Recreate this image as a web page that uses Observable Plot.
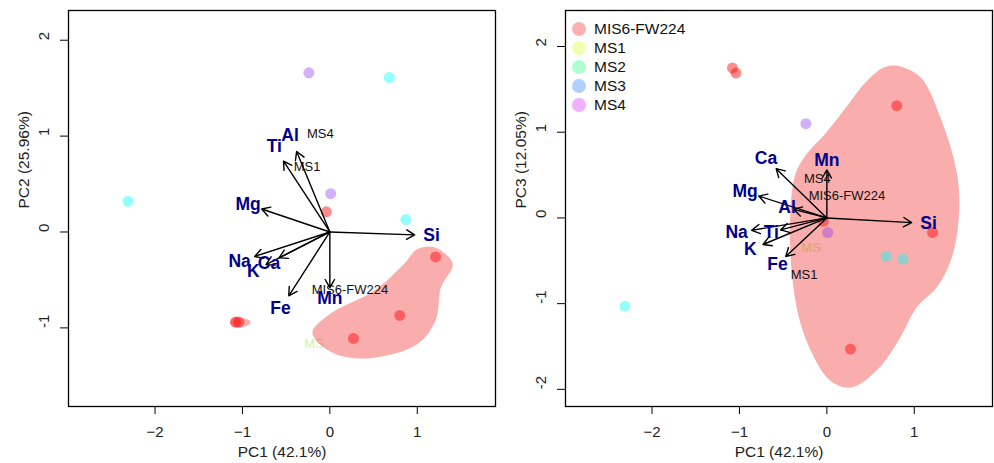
<!DOCTYPE html>
<html>
<head>
<meta charset="utf-8">
<script src="https://cdn.jsdelivr.net/npm/d3@7"></script>
<script src="https://cdn.jsdelivr.net/npm/@observablehq/plot@0.6"></script>
<style>
  body { margin: 0; background: #fff; font-family: "Liberation Sans", Arial, sans-serif; }
  #wrap { display: flex; width: 994px; height: 463px; }
  .panel { position: relative; width: 497px; height: 463px; }
  .legend { position: absolute; left: 75px; top: 19px; font-size: 15.5px; color: #111; }
  .legend .row { display: flex; align-items: center; height: 19px; }
  .legend .sw { width: 14px; height: 14px; border-radius: 50%; margin-right: 8px; }
</style>
</head>
<body>
<div id="wrap">
  <div class="panel" id="pc12"></div>
  <div class="panel" id="pc13"></div>
</div>
<script>
// Sample scores on the first three principal components
const sampleGroup = ["MIS6-FW224", "MIS6-FW224", "MIS6-FW224", "MIS6-FW224", "MIS6-FW224", "MIS6-FW224",
                     "MS4", "MS4", "MS1", "MS1", "MS1"];
const samplePC1 = [-1.08, -1.04, 0.80, 1.21, 0.27, -0.04, -0.24, 0.01, 0.68, 0.87, -2.31];
const samplePC2 = [-0.94, -0.94, -0.87, -0.26, -1.11, 0.21, 1.66, 0.40, 1.61, 0.13, 0.32];
const samplePC3 = [1.75, 1.69, 1.31, -0.17, -1.53, -0.04, 1.10, -0.17, -0.45, -0.48, -1.03];

// Colours used for the sample points
const pointGroups = ["MIS6-FW224", "MS4", "MS1"];
const pointColors = ["rgba(255,0,0,0.45)", "rgba(140,50,240,0.38)", "rgba(0,255,255,0.42)"];

// Legend entries
const legendGroups = ["MIS6-FW224", "MS1", "MS2", "MS3", "MS4"];
const legendColors = ["#FFB0B0", "#F0FFB0", "#B0FFD0", "#B0D0FF", "#EEB0FF"];

// Element loadings (arrows)
const elements = ["Si", "Al", "Ti", "Mg", "Na", "K", "Ca", "Fe", "Mn"];
const loadPC1 = [0.97, -0.38, -0.53, -0.78, -0.86, -0.73, -0.58, -0.47, 0.00];
const loadPC2 = [-0.03, 0.84, 0.74, 0.24, -0.255, -0.34, -0.27, -0.665, -0.58];
const loadPC3 = [-0.055, 0.10, -0.14, 0.255, -0.145, -0.31, 0.575, -0.45, 0.56];
const labelScale = 1.2;

// Group labels
const groupLabels = ["MS4", "MS1", "MIS6-FW224"];
const groupLabelPC1 = [-0.11, -0.26, 0.23];
const groupLabelPC2 = [1.02, 0.68, -0.60];
const groupLabelPC3 = [0.46, -0.66, 0.26];
const faintLabel = "MS";
const faintLabelPC1 = -0.18;
const faintLabelPC2 = -1.17;
const faintLabelPC3 = -0.35;

// Outlines of the MIS6-FW224 envelope
const hull12Main = {
  pc1: [1.195, 1.405, 1.27, 1.21, 1.00, 0.39, 0.01, -0.20, 0.01, 0.51, 0.85, 1.00],
  pc2: [-0.16, -0.33, -0.58, -0.92, -1.17, -1.32, -1.25, -1.05, -0.85, -0.61, -0.33, -0.18]
};
const hull12Small = {
  pc1: [-1.14, -1.10, -1.00, -0.91, -0.92, -1.00, -1.10],
  pc2: [-0.945, -0.895, -0.90, -0.93, -0.965, -0.99, -0.99]
};
const hull13Main = {
  pc1: [0.80, 1.07, 1.30, 1.49, 1.51, 1.43, 1.26, 1.03, 0.82, 0.57, 0.27, 0.04, -0.15, -0.31, -0.40, -0.42, -0.36, -0.23, -0.02, 0.19, 0.46, 0.65],
  pc3: [1.775, 1.64, 1.17, 0.51, 0.01, -0.46, -0.81, -1.04, -1.43, -1.78, -1.98, -1.90, -1.62, -1.20, -0.65, 0.01, 0.51, 0.75, 0.98, 1.25, 1.60, 1.755]
};

const xTicks = [-2, -1, 0, 1];
const xDomain = [-2.99, 1.895];
const xTitle = "PC1 (42.1%)";

const font = "'Liberation Sans', Arial, sans-serif";
const colorOf = g => pointColors[pointGroups.indexOf(g)];

function makePanel({yValues, yDomain, yTicks, yTitle, loadY, labelY, faintY, hulls}) {
  const samples = sampleGroup.map((g, i) => ({group: g, x: samplePC1[i], y: yValues[i]}));
  const loads = elements.map((e, i) => ({name: e, x: loadPC1[i], y: loadY[i]}));
  const labels = groupLabels.map((t, i) => ({text: t, x: groupLabelPC1[i], y: labelY[i]}));
  const hullPts = hulls.flatMap((h, k) => h.x.map((x, i) => ({id: k, x, y: h.y[i]})));

  return Plot.plot({
    width: 497,
    height: 463,
    marginLeft: 68,
    marginRight: 2,
    marginTop: 10,
    marginBottom: 57,
    x: {domain: xDomain},
    y: {domain: yDomain},
    color: {type: "identity"},
    style: {fontFamily: font, fontSize: "15px", color: "#222", background: "#fff"},
    marks: [
      Plot.text([faintLabel], {x: () => faintLabelPC1, y: () => faintY, text: d => d,
        fill: "#CFF3A2", fontSize: 13}),
      Plot.line(hullPts, {x: "x", y: "y", z: "id", curve: "catmull-rom-closed",
        fill: "rgba(240,0,0,0.32)", stroke: "none"}),
      Plot.dot(samples, {x: "x", y: "y", r: 5.5, fill: d => colorOf(d.group), stroke: "none"}),
      Plot.text(labels, {x: "x", y: "y", text: "text", fill: "#111", fontSize: 13}),
      Plot.arrow(loads, {x1: () => 0, y1: () => 0, x2: "x", y2: "y",
        stroke: "#000", strokeWidth: 1.4, headLength: 10, headAngle: 60}),
      Plot.text(loads, {x: d => d.x * labelScale, y: d => d.y * labelScale, text: "name",
        fill: "#00008B", fontWeight: "bold", fontSize: 17.5}),
      Plot.axisX(xTicks, {tickSize: 8, tickPadding: 12, label: null, stroke: "#000", fontSize: 15}),
      Plot.axisY(yTicks, {tickSize: 8, text: null, label: null, stroke: "#000"}),
      Plot.text(yTicks, {y: d => d, text: d => String(d), frameAnchor: "left",
        rotate: -90, dx: -24.5, fontSize: 15}),
      Plot.text([xTitle], {frameAnchor: "bottom", lineAnchor: "middle", text: d => d, dy: 46, fontSize: 15.5}),
      Plot.text([yTitle], {frameAnchor: "left", lineAnchor: "middle", text: d => d, rotate: -90, dx: -44, fontSize: 15.5}),
      Plot.frame({stroke: "#000", strokeWidth: 1.3})
    ]
  });
}

document.getElementById("pc12").append(makePanel({
  yValues: samplePC2,
  yDomain: [-1.82, 2.31],
  yTicks: [-1, 0, 1, 2],
  yTitle: "PC2 (25.96%)",
  loadY: loadPC2,
  labelY: groupLabelPC2,
  faintY: faintLabelPC2,
  hulls: [{x: hull12Main.pc1, y: hull12Main.pc2}, {x: hull12Small.pc1, y: hull12Small.pc2}]
}));

const right = document.getElementById("pc13");
right.append(makePanel({
  yValues: samplePC3,
  yDomain: [-2.20, 2.42],
  yTicks: [-2, -1, 0, 1, 2],
  yTitle: "PC3 (12.05%)",
  loadY: loadPC3,
  labelY: groupLabelPC3,
  faintY: faintLabelPC3,
  hulls: [{x: hull13Main.pc1, y: hull13Main.pc3}]
}));

// Legend for the sample groups
const legend = document.createElement("div");
legend.className = "legend";
legendGroups.forEach((g, i) => {
  const row = document.createElement("div");
  row.className = "row";
  const sw = document.createElement("span");
  sw.className = "sw";
  sw.style.background = legendColors[i];
  const label = document.createElement("span");
  label.textContent = g;
  row.append(sw, label);
  legend.append(row);
});
right.append(legend);
</script>
</body>
</html>
